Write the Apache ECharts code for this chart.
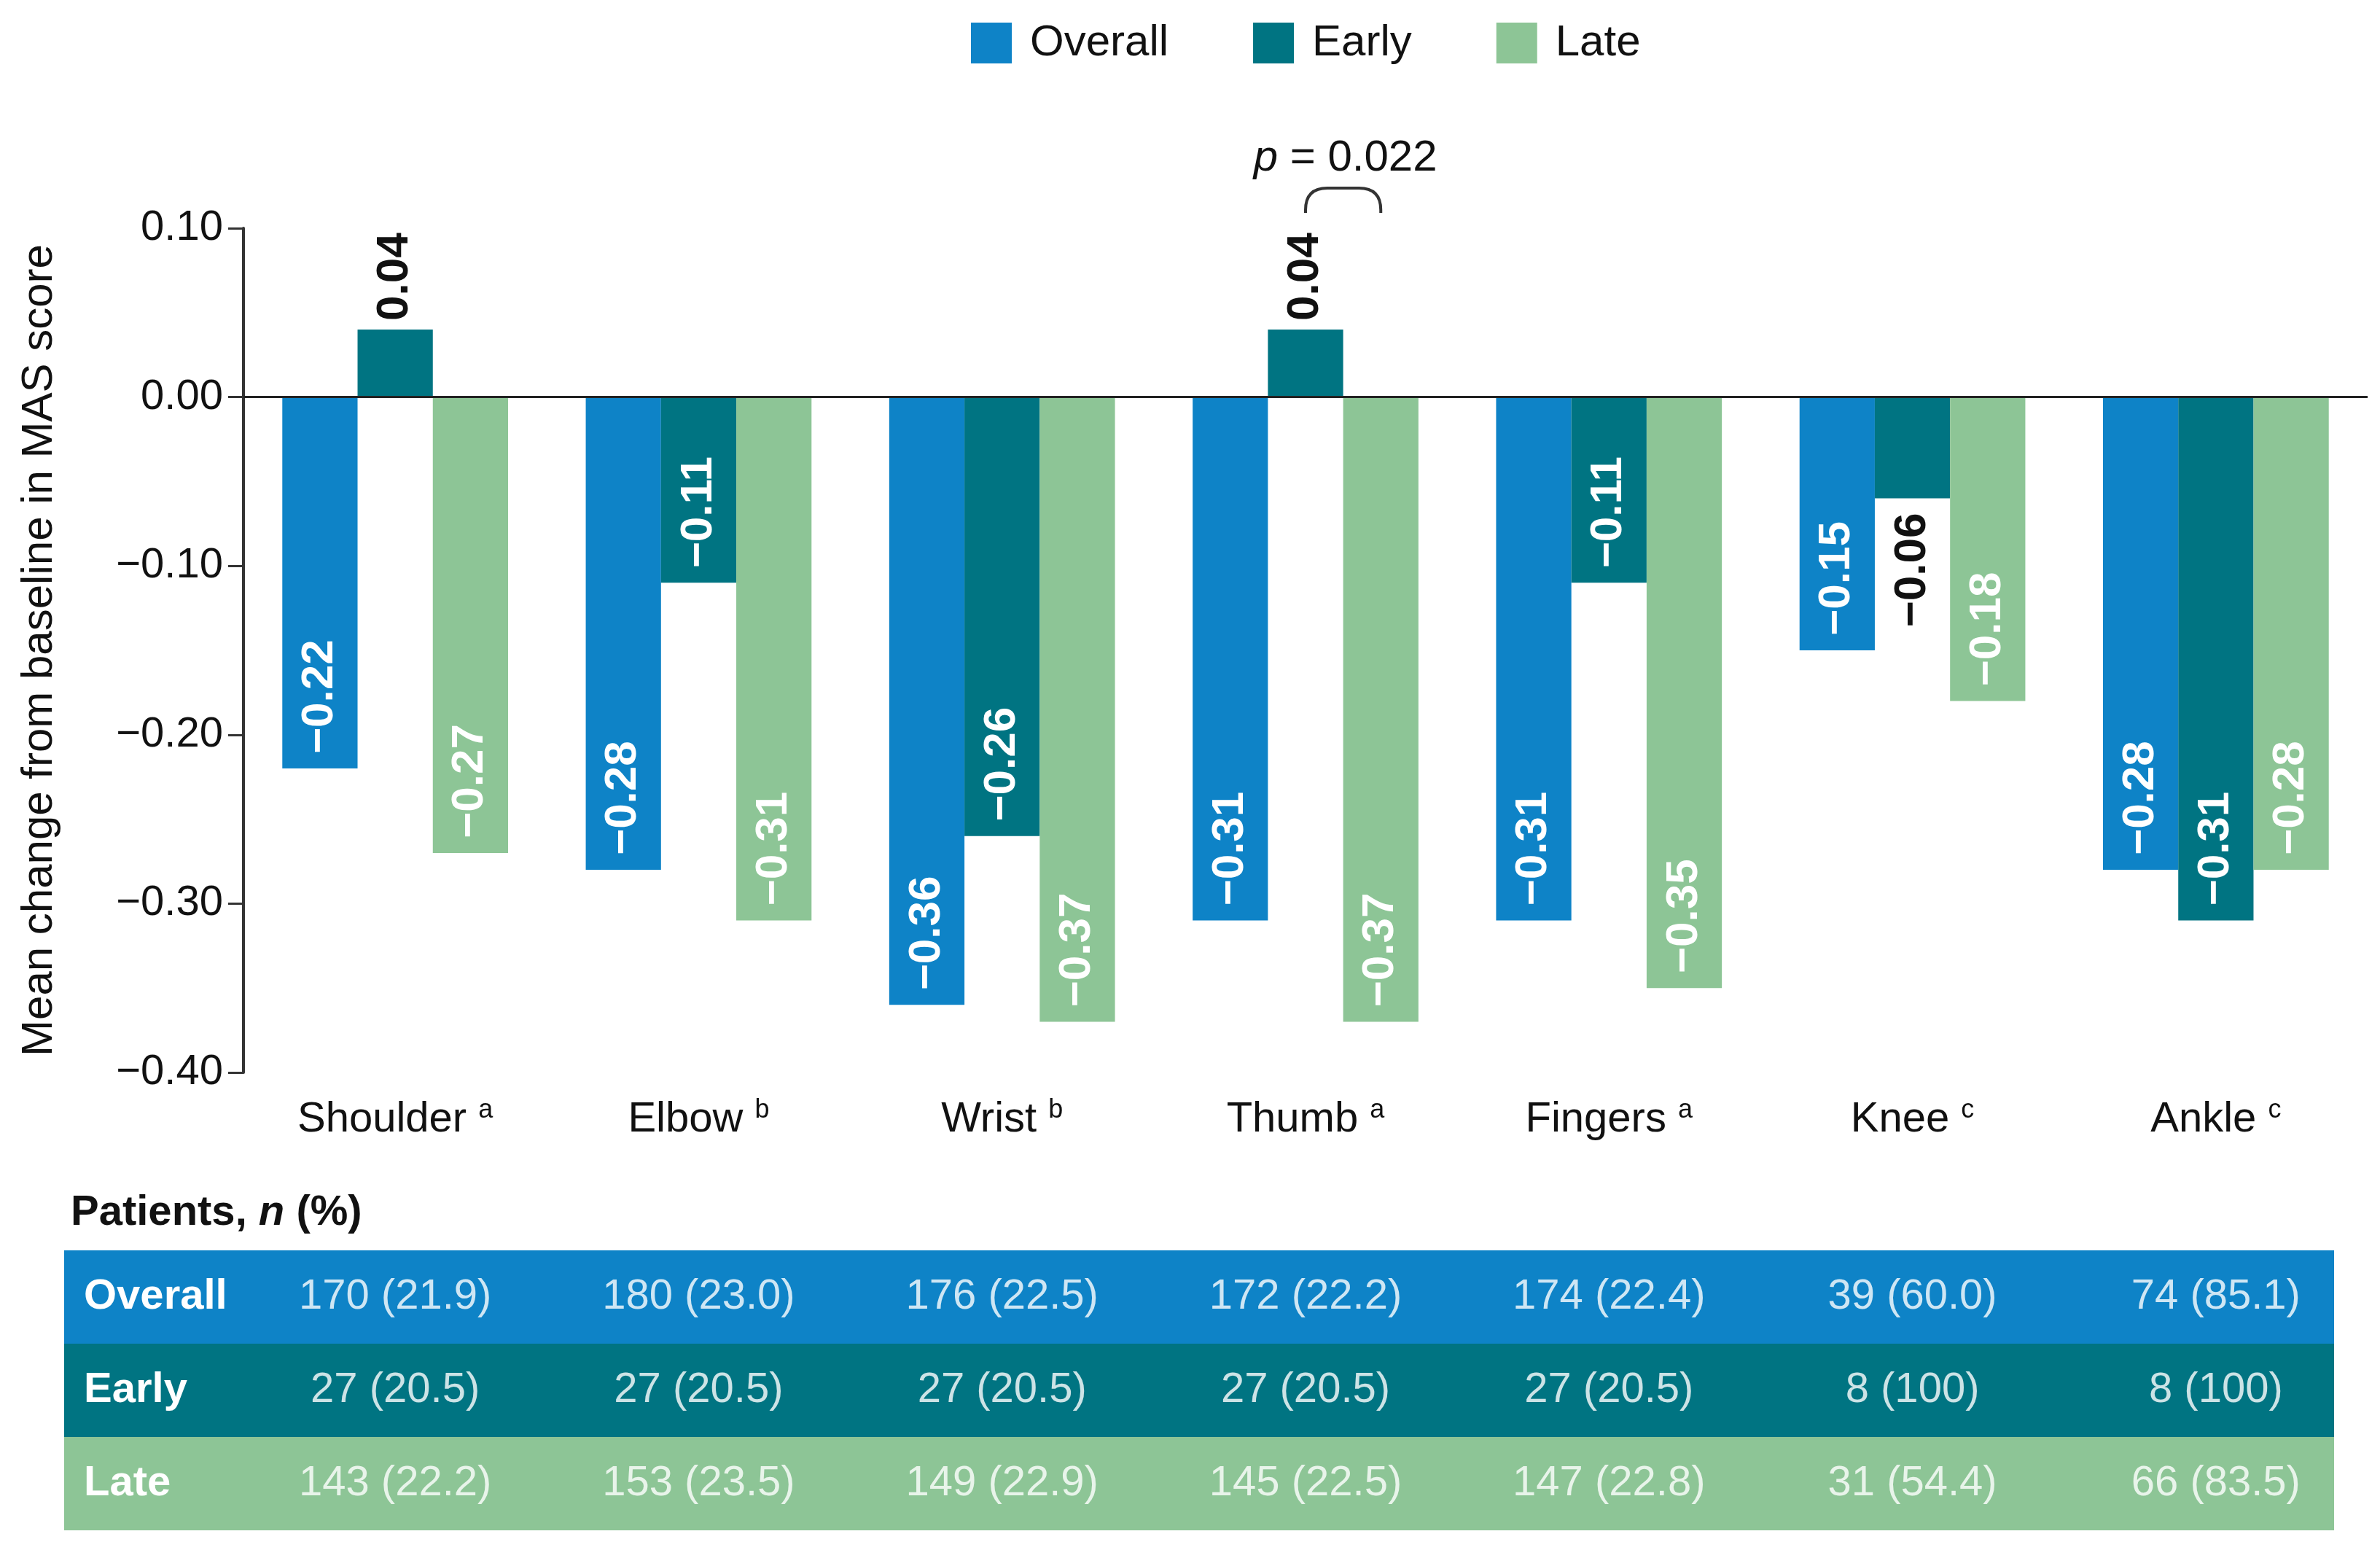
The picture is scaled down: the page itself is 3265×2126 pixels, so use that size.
<!DOCTYPE html>
<html>
<head>
<meta charset="utf-8">
<script src="https://cdn.jsdelivr.net/npm/echarts@6/dist/echarts.min.js"></script>
<style>
html,body{margin:0;padding:0;background:#fff;}
#chart{width:3265px;height:2126px;}
</style>
</head>
<body>
<div id="chart"></div>
<script>
// ---- data ----
const categories = ['Shoulder', 'Elbow', 'Wrist', 'Thumb', 'Fingers', 'Knee', 'Ankle'];
const footnotes = ['a', 'b', 'b', 'a', 'a', 'c', 'c'];
const seriesNames = ['Overall', 'Early', 'Late'];
const overallValues = [-0.22, -0.28, -0.36, -0.31, -0.31, -0.15, -0.28];
const earlyValues = [0.04, -0.11, -0.26, 0.04, -0.11, -0.06, -0.31];
const lateValues = [-0.27, -0.31, -0.37, -0.37, -0.35, -0.18, -0.28];
const yTicks = { min: -0.4, max: 0.1, interval: 0.1 };
const tableRows = ['Overall', 'Early', 'Late'];
const tableOverall = ['170 (21.9)', '180 (23.0)', '176 (22.5)', '172 (22.2)', '174 (22.4)', '39 (60.0)', '74 (85.1)'];
const tableEarly = ['27 (20.5)', '27 (20.5)', '27 (20.5)', '27 (20.5)', '27 (20.5)', '8 (100)', '8 (100)'];
const tableLate = ['143 (22.2)', '153 (23.5)', '149 (22.9)', '145 (22.5)', '147 (22.8)', '31 (54.4)', '66 (83.5)'];
const pCategory = 'Thumb';
const pValueText = '0.022';

// ---- styles ----
const FONT = '"Liberation Sans", Arial, Helvetica, sans-serif';
const colors = ['#0E83C7', '#007482', '#8DC596'];
const catGap = 25.6; // percent
const minus = '\u2212';
function fmt(v) { return (v < 0 ? minus : '') + Math.abs(v).toFixed(2); }

function barData(values) {
  return values.map(v => {
    const item = { value: v };
    if (v > 0) {
      item.label = { position: 'top', distance: 12, align: 'left', color: '#111' };
    } else if (Math.abs(v) < 0.08) {
      item.label = { position: 'bottom', distance: 20, align: 'right', color: '#111' };
    }
    return item;
  });
}

const barLabel = {
  show: true,
  position: 'insideBottom',
  distance: 20,
  rotate: 90,
  align: 'left',
  verticalAlign: 'middle',
  color: '#fff',
  fontWeight: 'bold',
  fontSize: 62,
  fontFamily: FONT,
  formatter: p => fmt(p.value)
};

const tableData = [tableOverall, tableEarly, tableLate];
const cellData = [];
tableData.forEach((row, r) => row.forEach((txt, c) => cellData.push({ value: [c, r], name: txt })));

const chart = echarts.init(document.getElementById('chart'), null, { renderer: 'canvas' });

const option = {
  backgroundColor: '#fff',
  animation: false,
  textStyle: { fontFamily: FONT },
  color: colors,
  title: {
    left: 92, top: 1630,
    text: '{b|Patients, }{bi|n}{b| (%)}',
    textStyle: {
      rich: {
        b: { fontSize: 58, fontWeight: 'bold', color: '#111', fontFamily: FONT },
        bi: { fontSize: 58, fontWeight: 'bold', fontStyle: 'italic', color: '#111', fontFamily: FONT }
      }
    }
  },
  legend: {
    data: seriesNames,
    left: 1327, top: 24,
    itemWidth: 56, itemHeight: 56,
    itemGap: 116,
    icon: 'rect',
    textStyle: { fontSize: 60, color: '#111', fontFamily: FONT, padding: [0, 0, 0, 20] }
  },
  grid: [
    { left: 334, right: 17, top: 313, bottom: 655 },
    { left: 334, right: 17, top: 1715, bottom: 27 }
  ],
  xAxis: [
    {
      type: 'category', gridIndex: 0, data: categories,
      axisLine: { show: false }, axisTick: { show: false },
      axisLabel: {
        interval: 0,
        margin: 34,
        formatter: (v, i) => v + ' {sup|' + footnotes[i] + '}',
        fontSize: 58, color: '#111', fontFamily: FONT,
        rich: {
          sup: { fontSize: 36, verticalAlign: 'top', color: '#111', fontFamily: FONT, padding: [0, 0, 26, 0] }
        }
      }
    },
    { type: 'category', gridIndex: 1, data: categories, show: false }
  ],
  yAxis: [
    {
      type: 'value', gridIndex: 0,
      min: yTicks.min, max: yTicks.max, interval: yTicks.interval,
      name: 'Mean change from baseline in MAS score',
      nameLocation: 'middle', nameGap: 250,
      nameTextStyle: { fontSize: 60, color: '#111', fontFamily: FONT },
      axisLine: { show: true, lineStyle: { color: '#333', width: 4 } },
      axisTick: { show: true, length: 21, lineStyle: { color: '#333', width: 3 } },
      splitLine: { show: false },
      axisLabel: { fontSize: 58, color: '#111', margin: 28, fontFamily: FONT, formatter: v => fmt(Math.round(v * 100) / 100) }
    },
    { type: 'category', gridIndex: 1, data: tableRows, inverse: true, show: false }
  ],
  series: [
    {
      name: seriesNames[0], type: 'bar', xAxisIndex: 0, yAxisIndex: 0,
      data: barData(overallValues), barGap: '0%', barCategoryGap: catGap + '%',
      label: barLabel,
      markLine: {
        silent: true, symbol: 'none', label: { show: false },
        lineStyle: { color: '#222', type: 'solid', width: 3 },
        data: [{ yAxis: 0 }]
      }
    },
    {
      name: seriesNames[1], type: 'bar', xAxisIndex: 0, yAxisIndex: 0,
      data: barData(earlyValues), barGap: '0%', barCategoryGap: catGap + '%',
      label: barLabel
    },
    {
      name: seriesNames[2], type: 'bar', xAxisIndex: 0, yAxisIndex: 0,
      data: barData(lateValues), barGap: '0%', barCategoryGap: catGap + '%',
      label: barLabel
    },
    {
      // p-value bracket between Early and Late bars of the chosen category
      type: 'custom', xAxisIndex: 0, yAxisIndex: 0, clip: false, z: 10, silent: true,
      data: [[categories.indexOf(pCategory), yTicks.max]],
      renderItem: function (params, api) {
        const c = api.coord([api.value(0), api.value(1)]);
        const band = api.size([1, 0])[0];
        const bw = band * (1 - catGap / 100) / 3;
        const x1 = c[0], x2 = c[0] + bw;
        const yEnd = c[1] - 21, yTop = c[1] - 55, r = 30;
        const path = 'M' + x1 + ' ' + yEnd + ' L' + x1 + ' ' + (yTop + r) +
          ' Q' + x1 + ' ' + yTop + ' ' + (x1 + r) + ' ' + yTop +
          ' L' + (x2 - r) + ' ' + yTop +
          ' Q' + x2 + ' ' + yTop + ' ' + x2 + ' ' + (yTop + r) +
          ' L' + x2 + ' ' + yEnd;
        return {
          type: 'group',
          children: [
            { type: 'path', shape: { pathData: path }, style: { stroke: '#333', lineWidth: 4, fill: null } },
            {
              type: 'text',
              style: {
                x: (x1 + x2) / 2 + 3, y: c[1] - 96,
                text: '{i|p} = ' + pValueText,
                align: 'center', verticalAlign: 'middle',
                fill: '#111', fontSize: 60, fontFamily: FONT,
                rich: { i: { fontStyle: 'italic', fontSize: 60, fontFamily: FONT, fill: '#111' } }
              }
            }
          ]
        };
      }
    },
    {
      // table row backgrounds + row names
      type: 'custom', xAxisIndex: 1, yAxisIndex: 1, clip: false, silent: true, z: 1,
      data: tableRows.map((r, i) => [0, i]),
      renderItem: function (params, api) {
        const cs = params.coordSys;
        const idx = api.value(1);
        const y = api.coord([0, idx])[1];
        const h = api.size([0, 1])[1];
        const left = cs.x - 246;
        const right = cs.x + cs.width - 46;
        return {
          type: 'group',
          children: [
            { type: 'rect', shape: { x: left, y: y - h / 2, width: right - left, height: h }, style: { fill: colors[idx] } },
            {
              type: 'text',
              style: {
                x: left + 27, y: y, text: tableRows[idx],
                align: 'left', verticalAlign: 'middle',
                fill: '#fff', fontSize: 58, fontWeight: 'bold', fontFamily: FONT
              }
            }
          ]
        };
      }
    },
    {
      // table cell values
      type: 'scatter', xAxisIndex: 1, yAxisIndex: 1, z: 5, silent: true,
      symbolSize: 0,
      data: cellData,
      label: {
        show: true, position: 'inside', color: '#fff', fontSize: 58, fontFamily: FONT,
        formatter: p => p.name
      }
    }
  ]
};
chart.setOption(option);
</script>
</body>
</html>
